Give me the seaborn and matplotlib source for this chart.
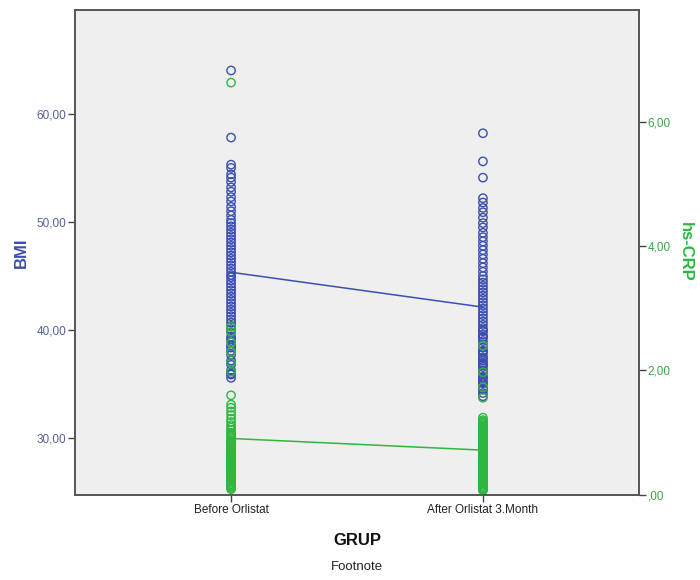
import seaborn as sns
import pandas as pd
import matplotlib.pyplot as plt

groups = ["Before Orlistat", "After Orlistat 3.Month"]

bmi_before = [64.0, 57.8, 55.3, 55.0,
              54.4, 54.1, 53.7, 53.2, 52.8, 52.3, 51.9, 51.4, 51.0, 50.6,
              50.2, 49.9, 49.6, 49.3, 49.0, 48.7, 48.4, 48.1, 47.8, 47.5,
              47.2, 46.9, 46.6, 46.3, 46.0, 45.7, 45.4, 45.1,
              44.9, 44.6, 44.3, 44.0, 43.7, 43.4, 43.1, 42.8, 42.5, 42.2,
              41.9, 41.6, 41.3, 41.0, 40.7, 40.4, 40.1, 39.8, 39.4, 39.2,
              39.0, 38.6, 38.4, 38.1, 37.7, 37.2, 37.0, 36.8, 36.3, 36.0,
              35.9, 35.6]
bmi_after = [58.2, 55.6, 54.1,
             52.2, 51.8, 51.3, 50.9, 50.4, 49.9, 49.5, 49.0, 48.6, 48.2,
             47.8, 47.4, 47.0, 46.6, 46.2, 45.8, 45.4, 45.0, 44.7, 44.4,
             44.1, 43.8, 43.5, 43.2, 42.9, 42.6, 42.3, 42.0, 41.7, 41.4,
             41.1, 40.8, 40.5, 40.2, 40.0, 39.9, 39.6, 39.4, 39.3, 39.0,
             38.7, 38.4, 38.1, 38.0, 37.8, 37.5, 37.4, 37.2, 37.0, 36.9,
             36.8, 36.6, 36.3, 36.2, 36.0, 35.7, 35.6, 35.4, 35.2, 35.1,
             34.8, 34.6, 34.5, 34.2, 33.9]

crp_before = [6.63, 2.70, 2.62, 2.45, 2.30, 2.12, 1.98, 1.60,
              1.45, 1.40, 1.34, 1.28, 1.22, 1.17, 1.12, 1.08, 1.04, 1.00,
              0.97, 0.94, 0.91, 0.88, 0.86, 0.84, 0.82, 0.80, 0.78, 0.76,
              0.74, 0.72, 0.70, 0.69, 0.67, 0.65, 0.64, 0.62, 0.60, 0.59,
              0.57, 0.55, 0.54, 0.52, 0.50, 0.49, 0.47, 0.45, 0.44, 0.42,
              0.40, 0.38, 0.36, 0.35, 0.33, 0.31, 0.29, 0.27, 0.25, 0.23,
              0.21, 0.19, 0.17, 0.15, 0.13, 0.11, 0.09]
crp_after = [2.40, 1.97, 1.73, 1.56,
             1.24, 1.20, 1.18, 1.16, 1.14, 1.12, 1.10, 1.08, 1.06, 1.05,
             1.02, 1.00, 0.99, 0.96, 0.95, 0.93, 0.92, 0.90, 0.88, 0.86,
             0.85, 0.84, 0.82, 0.80, 0.78, 0.76, 0.74, 0.72,
             0.70, 0.68, 0.66, 0.64, 0.62, 0.60, 0.58, 0.56, 0.54, 0.52,
             0.50, 0.48, 0.46, 0.44, 0.42, 0.40, 0.38, 0.36, 0.34, 0.32,
             0.30, 0.28, 0.26, 0.24, 0.22, 0.20, 0.18, 0.16, 0.14, 0.12,
             0.10, 0.09, 0.08, 0.07]

bmi_ticks = [30, 40, 50, 60]
bmi_labels = ["30,00", "40,00", "50,00", "60,00"]
crp_ticks = [0, 2, 4, 6]
crp_labels = [",00", "2,00", "4,00", "6,00"]

blue = "#3a4fb0"
green = "#2db83d"

bmi = pd.DataFrame({
    "GRUP": [groups[0]] * len(bmi_before) + [groups[1]] * len(bmi_after),
    "BMI": bmi_before + bmi_after,
})
crp = pd.DataFrame({
    "GRUP": [groups[0]] * len(crp_before) + [groups[1]] * len(crp_after),
    "hs-CRP": crp_before + crp_after,
})

sns.set_style("white")
plt.rcParams['font.family'] = ['Liberation Sans', 'DejaVu Sans']

fig, ax = plt.subplots(figsize=(7, 5.8), dpi=100)
fig.subplots_adjust(left=0.107, right=0.913, top=0.983, bottom=0.147)
ax.set_facecolor("#efefef")
ax2 = ax.twinx()

# BMI on the left axis
sns.stripplot(data=bmi, x="GRUP", y="BMI", order=groups, jitter=False,
              size=6, linewidth=1, color=blue, ax=ax, zorder=2)
for c in ax.collections:
    c.set_facecolor("none")
    c.set_edgecolor(blue)
sns.pointplot(data=bmi, x="GRUP", y="BMI", order=groups, errorbar=None,
              color=blue, markersize=0, linewidth=1.1, ax=ax)

# hs-CRP on the right axis
sns.stripplot(data=crp, x="GRUP", y="hs-CRP", order=groups, jitter=False,
              size=6, linewidth=1, color=green, ax=ax2, zorder=2)
for c in ax2.collections:
    c.set_facecolor("none")
    c.set_edgecolor(green)
sns.pointplot(data=crp, x="GRUP", y="hs-CRP", order=groups, errorbar=None,
              color=green, markersize=0, linewidth=1.1, ax=ax2)

ax.set_xlim(-0.62, 1.62)
ax.set_ylim(24.8, 69.6)
ax2.set_ylim(0, 7.8)

ax.set_yticks(bmi_ticks)
ax.set_yticklabels(bmi_labels)
ax2.set_yticks(crp_ticks)
ax2.set_yticklabels(crp_labels)
ax.set_xticks([0, 1])
ax.set_xticklabels(groups)

ax.tick_params(axis="y", direction="out", length=5, width=1, color="#444444",
               labelcolor="#56609a", labelsize=8.5, pad=1, left=True)
ax2.tick_params(axis="y", direction="out", length=5, width=1, color="#444444",
                labelcolor="#3aa54a", labelsize=8.5, pad=1, right=True)
ax.tick_params(axis="x", direction="out", length=5, width=1, color="#444444",
               labelcolor="#222222", labelsize=8.5, pad=2, bottom=True)

for a in (ax, ax2):
    for s in a.spines.values():
        s.set_color("#555555")
        s.set_linewidth(1.2)

ax.set_ylabel("BMI", fontsize=12, fontweight="bold", color="#3a4fa8", labelpad=6)
ax2.set_ylabel("hs-CRP", fontsize=12, fontweight="bold", color="#2db83d",
               rotation=270, labelpad=16)
ax.set_xlabel("GRUP", fontsize=12, fontweight="bold", color="#111111", labelpad=12)
ax2.set_xlabel("")

fig.text(0.51, 0.012, "Footnote", ha="center", va="bottom", fontsize=9.5, color="#222222")

plt.savefig("out.png", dpi=100)
